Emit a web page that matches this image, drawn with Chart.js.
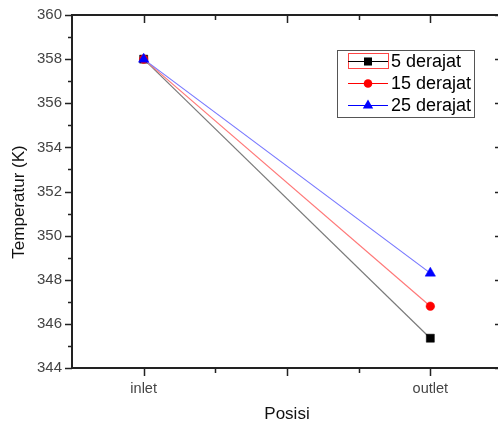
<!DOCTYPE html>
<html>
<head>
<meta charset="utf-8">
<script src="https://cdn.jsdelivr.net/npm/chart.js@4/dist/chart.umd.min.js"></script>
<style>
  html, body { margin: 0; padding: 0; background: #fff; overflow: hidden; }
  #wrap { width: 510px; height: 423px; }
</style>
</head>
<body>
<div id="wrap"><canvas id="chart" width="510" height="423"></canvas></div>
<script>
// data
const categories = ['inlet', 'outlet'];
const seriesNames = ['5 derajat', '15 derajat', '25 derajat'];
const deg5 = [358, 345.35];
const deg15 = [358, 346.8];
const deg25 = [358, 348.3];
const yTicks = [344, 346, 348, 350, 352, 354, 356, 358, 360];

const FONT = '"Liberation Sans", Arial, sans-serif';

const styles = [
  { line: '#7a7a7a', mark: '#000', key: '#000', point: 'rect', r: 5.7 },
  { line: '#ff7878', mark: '#f00', key: '#f00', point: 'circle', r: 4.3 },
  { line: '#7878ff', mark: '#00f', key: '#00f', point: 'triangle', r: 6 }
];

const toXY = arr => arr.map((v, i) => ({ x: i + 1, y: v }));

function marker(ctx, type, x, y, r, color) {
  ctx.save();
  ctx.fillStyle = color;
  ctx.beginPath();
  if (type === 'rect') {
    const s = r / Math.SQRT2;
    ctx.rect(x - s, y - s, 2 * s, 2 * s);
  } else if (type === 'circle') {
    ctx.arc(x, y, r, 0, Math.PI * 2);
  } else {
    for (let k = 0; k < 3; k++) {
      const a = k * 2 * Math.PI / 3;
      const px = x + Math.sin(a) * r, py = y - Math.cos(a) * r;
      k ? ctx.lineTo(px, py) : ctx.moveTo(px, py);
    }
    ctx.closePath();
  }
  ctx.fill();
  ctx.restore();
}

// axes frame, ticks, legend and axis titles in the Origin look
const originFrame = {
  id: 'originFrame',
  afterDraw(chart) {
    const { ctx, chartArea: a, scales: { x, y } } = chart;
    ctx.save();
    ctx.strokeStyle = '#222';
    ctx.lineWidth = 2;
    ctx.beginPath();
    ctx.moveTo(a.left, a.top); ctx.lineTo(a.right, a.top);
    ctx.moveTo(a.left, a.top - 1); ctx.lineTo(a.left, a.bottom + 1);
    ctx.moveTo(a.left, a.bottom); ctx.lineTo(a.right, a.bottom);
    ctx.moveTo(a.right, a.top - 1); ctx.lineTo(a.right, a.bottom + 1);
    ctx.stroke();

    ctx.lineWidth = 1.5;
    ctx.beginPath();
    for (let v = 344; v <= 360; v++) {
      const py = Math.round(y.getPixelForValue(v)) + 0.5;
      const len = v % 2 === 0 ? 7 : 4;
      ctx.moveTo(a.left - len, py); ctx.lineTo(a.left, py);
      ctx.moveTo(a.right - len, py); ctx.lineTo(a.right, py);
    }
    for (let v = 1; v <= 2; v += 0.25) {
      const px = Math.round(x.getPixelForValue(v)) + 0.5;
      const len = (v * 2) % 1 === 0 ? 8 : 5;
      ctx.moveTo(px, a.bottom); ctx.lineTo(px, a.bottom + len);
      ctx.moveTo(px, a.top); ctx.lineTo(px, a.top + len);
    }
    ctx.stroke();

    // axis titles
    ctx.fillStyle = '#111';
    ctx.font = '17px ' + FONT;
    ctx.textAlign = 'center';
    ctx.textBaseline = 'middle';
    ctx.save();
    ctx.translate(19, 202);
    ctx.rotate(-Math.PI / 2);
    ctx.fillText('Temperatur (K)', 0, 0);
    ctx.restore();
    ctx.fillText('Posisi', (a.left + a.right) / 2, 414);

    // legend
    const lx = 337, ly = 50, lw = 137, lh = 67;
    ctx.fillStyle = '#fff';
    ctx.fillRect(lx, ly, lw, lh);
    ctx.strokeStyle = '#555';
    ctx.lineWidth = 1;
    ctx.strokeRect(lx + 0.5, ly + 0.5, lw, lh);
    ctx.strokeStyle = '#f44';
    ctx.strokeRect(348.5, 53.5, 40, 15);
    ctx.font = '18px ' + FONT;
    ctx.textAlign = 'left';
    seriesNames.forEach((name, i) => {
      const st = styles[i];
      const ry = 61 + i * 22;
      ctx.strokeStyle = st.key;
      ctx.beginPath();
      ctx.moveTo(348, ry + 0.5); ctx.lineTo(388, ry + 0.5);
      ctx.stroke();
      marker(ctx, st.point, 368, ry + 0.5, st.r, st.mark);
      ctx.fillStyle = '#000';
      ctx.fillText(name, 391, ry + 1);
    });
    ctx.restore();
  }
};

const datasets = [deg5, deg15, deg25].map((vals, i) => ({
  label: seriesNames[i],
  data: toXY(vals),
  borderColor: styles[i].line,
  borderWidth: 1.2,
  pointStyle: styles[i].point,
  pointRadius: styles[i].r,
  pointBackgroundColor: styles[i].mark,
  pointBorderColor: styles[i].mark,
  pointBorderWidth: 0.5,
  order: 3 - i
}));

new Chart(document.getElementById('chart'), {
  type: 'line',
  data: { datasets },
  plugins: [originFrame],
  options: {
    responsive: false,
    animation: false,
    devicePixelRatio: 1,
    layout: { padding: { left: 0, top: 15, right: 8, bottom: 0 } },
    plugins: { legend: { display: false }, tooltip: { enabled: false } },
    scales: {
      x: {
        type: 'linear',
        min: 0.75,
        max: 2.25,
        afterBuildTicks: s => { s.ticks = categories.map((c, i) => ({ value: i + 1 })); },
        afterFit: s => { s.height = 55; },
        grid: { display: false, drawTicks: false },
        border: { display: false },
        ticks: {
          padding: 12,
          color: '#444',
          font: { family: FONT, size: 14.5 },
          maxRotation: 0,
          callback: v => categories[Math.round(v) - 1] || ''
        }
      },
      y: {
        min: 344,
        max: 360,
        afterBuildTicks: s => { s.ticks = yTicks.map(v => ({ value: v })); },
        afterFit: s => { s.width = 72; },
        // tick marks drawn by the plugin; tickLength only pushes labels off the axis
        grid: { display: false, drawTicks: true, tickLength: 10 },
        border: { display: false },
        ticks: {
          padding: 0,
          color: '#444',
          font: { family: FONT, size: 15 }
        }
      }
    }
  }
});
</script>
</body>
</html>
